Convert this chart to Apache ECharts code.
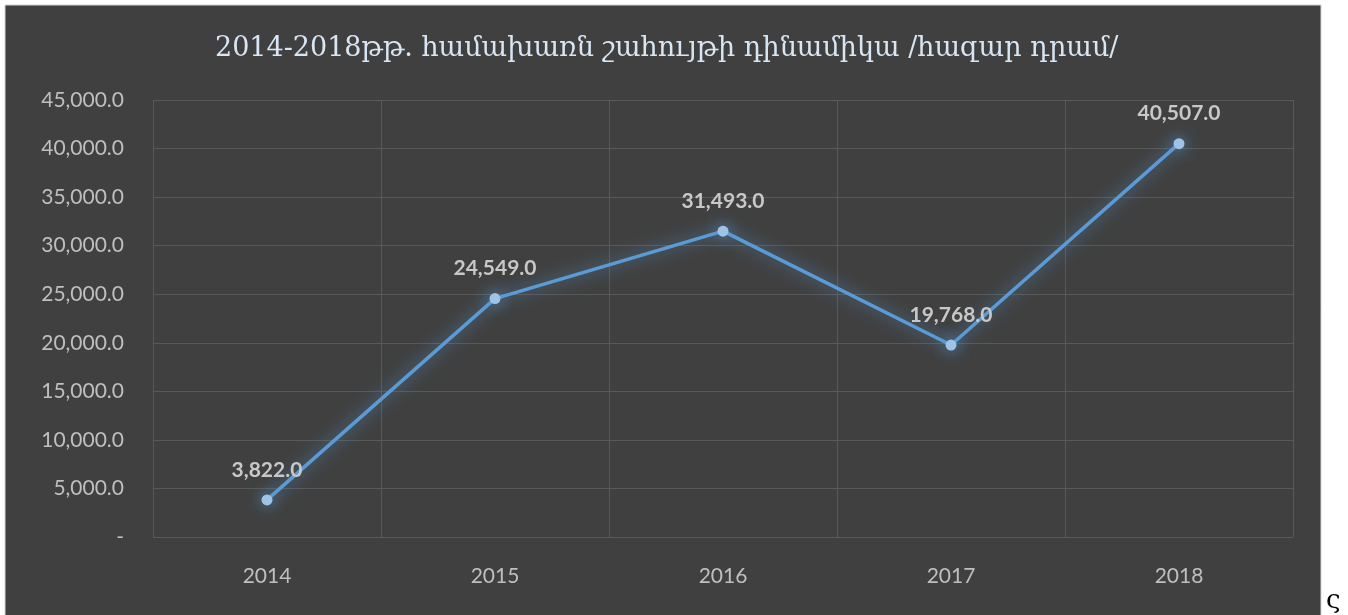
<!DOCTYPE html>
<html>
<head>
<meta charset="utf-8">
<title>համախառն շահույթ</title>
<script src="https://cdn.jsdelivr.net/npm/echarts@6/dist/echarts.min.js"></script>
<style>
  html, body { margin: 0; padding: 0; background: #ffffff; }
  #chart { width: 1348px; height: 615px; }
</style>
</head>
<body>
<div id="chart"></div>
<script>
// data
var years = ['2014', '2015', '2016', '2017', '2018'];
var profit = [3822, 24549, 31493, 19768, 40507];
var titleText = '2014-2018թթ. համախառն շահույթի դինամիկա /հազար դրամ/';

function fmt(v) {
  if (v === 0) return '-';
  return v.toLocaleString('en-US', { minimumFractionDigits: 1, maximumFractionDigits: 1 });
}

var myChart = echarts.init(document.getElementById('chart'), null, { renderer: 'canvas' });

var option = {
  backgroundColor: '#ffffff',
  animation: false,
  graphic: [
    {
      type: 'rect',
      z: -10,
      shape: { x: 5, y: 5, width: 1316, height: 620 },
      style: { fill: '#404040', stroke: '#d4d4d4', lineWidth: 1 }
    },
    {
      type: 'text',
      left: 1326,
      top: 588,
      style: { text: 'ς', fill: '#000000', font: '26px "DejaVu Serif"' }
    }
  ],
  title: {
    text: titleText,
    left: 210,
    top: 30,
    textStyle: {
      color: '#d8e6f4',
      fontFamily: '"DejaVu Serif", serif',
      fontWeight: 'normal',
      fontSize: 27
    }
  },
  grid: {
    left: 153,
    right: 55,
    top: 100,
    bottom: 78
  },
  xAxis: {
    type: 'category',
    data: years,
    boundaryGap: true,
    axisLine: { show: false },
    axisTick: { show: false },
    axisLabel: {
      color: '#bfbfbf',
      fontSize: 21,
      fontFamily: 'Lato, "Noto Sans", sans-serif',
      margin: 29
    },
    splitLine: {
      show: true,
      lineStyle: { color: '#595959', width: 1 }
    }
  },
  yAxis: {
    type: 'value',
    min: 0,
    max: 45000,
    interval: 5000,
    axisLine: { show: false },
    axisTick: { show: false },
    axisLabel: {
      color: '#bfbfbf',
      fontSize: 21,
      fontFamily: 'Lato, "Noto Sans", sans-serif',
      margin: 29,
      formatter: fmt
    },
    splitLine: {
      lineStyle: { color: '#595959', width: 1 }
    }
  },
  series: [
    {
      type: 'line',
      data: profit,
      symbol: 'circle',
      symbolSize: 11,
      lineStyle: {
        color: '#5b9bd5',
        width: 3.5,
        shadowColor: 'rgba(91,155,213,0.85)',
        shadowBlur: 16
      },
      itemStyle: {
        color: '#9dc3e6',
        borderWidth: 0,
        shadowColor: 'rgba(91,155,213,0.95)',
        shadowBlur: 16
      },
      label: {
        show: true,
        position: 'top',
        distance: 14,
        color: '#c8c8c8',
        fontSize: 21,
        fontWeight: 'bold',
        fontFamily: 'Lato, "Noto Sans", sans-serif',
        formatter: function (p) { return fmt(p.value); }
      }
    }
  ]
};

myChart.setOption(option);
</script>
</body>
</html>
